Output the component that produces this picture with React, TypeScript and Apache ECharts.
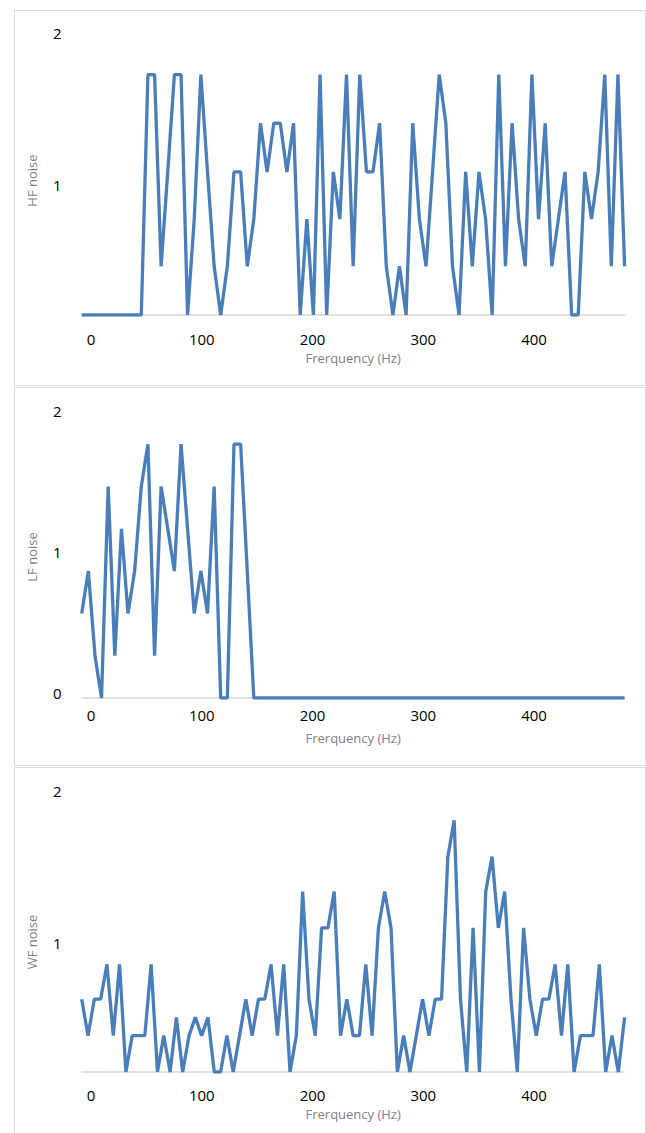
import { useEffect, useRef } from "react";
import * as echarts from "echarts";

// Frequency bins (Hz) of the HF and LF traces
const hfLfFrequencies = [
  -8.4, -2.4, 3.6, 9.5, 15.5, 21.5, 27.5, 33.4, 39.4, 45.4,
  51.4, 57.4, 63.3, 69.3, 75.3, 81.3, 87.2, 93.2, 99.2, 105.2,
  111.2, 117.1, 123.1, 129.1, 135.1, 141.1, 147.0, 153.0, 159.0, 165.0,
  170.9, 176.9, 182.9, 188.9, 194.9, 200.8, 206.8, 212.8, 218.8, 224.7,
  230.7, 236.7, 242.7, 248.7, 254.6, 260.6, 266.6, 272.6, 278.5, 284.5,
  290.5, 296.5, 302.5, 308.4, 314.4, 320.4, 326.4, 332.3, 338.3, 344.3,
  350.3, 356.3, 362.2, 368.2, 374.2, 380.2, 386.1, 392.1, 398.1, 404.1,
  410.1, 416.0, 422.0, 428.0, 434.0, 439.9, 445.9, 451.9, 457.9, 463.9,
  469.8, 475.8, 481.8,
];

// Frequency bins (Hz) of the WF trace
const wfFrequencies = [
  -8.4, -2.7, 3.0, 8.7, 14.4, 20.1, 25.8, 31.5, 37.2, 42.9,
  48.6, 54.3, 60.0, 65.7, 71.4, 77.1, 82.8, 88.5, 94.2, 99.9,
  105.6, 111.3, 117.0, 122.7, 128.4, 134.1, 139.8, 145.5, 151.2, 156.9,
  162.6, 168.3, 174.0, 179.7, 185.4, 191.1, 196.8, 202.5, 208.2, 213.9,
  219.6, 225.3, 231.0, 236.7, 242.4, 248.1, 253.8, 259.5, 265.2, 270.9,
  276.6, 282.3, 288.0, 293.7, 299.4, 305.1, 310.8, 316.5, 322.2, 327.9,
  333.6, 339.3, 345.0, 350.7, 356.4, 362.1, 367.8, 373.5, 379.2, 384.9,
  390.6, 396.3, 402.0, 407.7, 413.4, 419.1, 424.8, 430.5, 436.2, 441.9,
  447.6, 453.3, 459.0, 464.7, 470.4, 476.1, 481.8,
];

const hfNoise = [
  0.18, 0.18, 0.18, 0.18, 0.18, 0.18, 0.18, 0.18, 0.18, 0.18,
  1.76, 1.76, 0.5, 1.12, 1.76, 1.76, 0.18, 0.81, 1.76, 1.12,
  0.5, 0.18, 0.5, 1.12, 1.12, 0.5, 0.81, 1.44, 1.12, 1.44,
  1.44, 1.12, 1.44, 0.18, 0.81, 0.18, 1.76, 0.18, 1.12, 0.81,
  1.76, 0.5, 1.76, 1.12, 1.12, 1.44, 0.5, 0.18, 0.5, 0.18,
  1.44, 0.81, 0.5, 1.12, 1.76, 1.44, 0.5, 0.18, 1.12, 0.5,
  1.12, 0.81, 0.18, 1.76, 0.5, 1.44, 0.81, 0.5, 1.76, 0.81,
  1.44, 0.5, 0.81, 1.12, 0.18, 0.18, 1.12, 0.81, 1.12, 1.76,
  0.5, 1.76, 0.5,
];

const lfNoise = [
  0.6, 0.9, 0.3, 0, 1.5, 0.3, 1.2, 0.6, 0.9, 1.5,
  1.8, 0.3, 1.5, 1.2, 0.9, 1.8, 1.2, 0.6, 0.9, 0.6,
  1.5, 0, 0, 1.8, 1.8, 0.9, 0, 0, 0, 0,
  0, 0, 0, 0, 0, 0, 0, 0, 0, 0,
  0, 0, 0, 0, 0, 0, 0, 0, 0, 0,
  0, 0, 0, 0, 0, 0, 0, 0, 0, 0,
  0, 0, 0, 0, 0, 0, 0, 0, 0, 0,
  0, 0, 0, 0, 0, 0, 0, 0, 0, 0,
  0, 0, 0,
];

const wfNoise = [
  0.66, 0.42, 0.66, 0.66, 0.89, 0.42, 0.89, 0.18, 0.42, 0.42,
  0.42, 0.89, 0.18, 0.42, 0.18, 0.54, 0.18, 0.42, 0.54, 0.42,
  0.54, 0.18, 0.18, 0.42, 0.18, 0.42, 0.66, 0.42, 0.66, 0.66,
  0.89, 0.42, 0.89, 0.18, 0.42, 1.37, 0.66, 0.42, 1.13, 1.13,
  1.37, 0.42, 0.66, 0.42, 0.42, 0.89, 0.42, 1.13, 1.37, 1.13,
  0.18, 0.42, 0.18, 0.42, 0.66, 0.42, 0.66, 0.66, 1.6, 1.84,
  0.66, 0.18, 1.13, 0.18, 1.37, 1.6, 1.13, 1.37, 0.66, 0.18,
  1.13, 0.66, 0.42, 0.66, 0.66, 0.89, 0.42, 0.89, 0.18, 0.42,
  0.42, 0.42, 0.89, 0.18, 0.42, 0.18, 0.54,
];

const xTickLabels = [0, 100, 200, 300, 400];
const xAxisTitle = "Frerquency (Hz)";
const panelNames = ["HF noise", "LF noise", "WF noise"];
const panelFrequencies = [hfLfFrequencies, hfLfFrequencies, wfFrequencies];
const panelSeries = [hfNoise, lfNoise, wfNoise];
const panelYMin = [0.18, 0, 0.18];
const panelYTicks = [[1, 2], [0, 1, 2], [1, 2]];

const FONT = "'Open Sans', sans-serif";
const LINE_COLOR = "#4a7ebb";

export default function App() {
  const ref = useRef<HTMLDivElement>(null);

  useEffect(() => {
    if (!ref.current) return;
    const chart = echarts.init(ref.current, undefined, { renderer: "svg" });

    const gridTops = [38, 416, 796];
    const gridHeights = [277, 282, 276];
    const labelMargins = [16.5, 9.5, 15.5];
    const nameGaps = [36.5, 33.5, 35.5];
    const yNamePad = [[0, 8, 0, 0], [0, 0, 0, 0], [0, 16, 0, 0]];

    const grids = gridTops.map((top, i) => ({
      left: 81.7,
      width: 542.9,
      top,
      height: gridHeights[i],
    }));

    const xAxes = gridTops.map((_, i) => ({
      type: "value" as const,
      gridIndex: i,
      min: -8.4,
      max: 481.8,
      name: xAxisTitle,
      nameLocation: "middle" as const,
      nameGap: nameGaps[i],
      nameTextStyle: { color: "#7f7f7f", fontSize: 13, fontFamily: FONT },
      axisLine: { show: true, lineStyle: { color: "#d9d9d9", width: 1.5 } },
      axisTick: { show: false },
      splitLine: { show: false },
      axisLabel: {
        customValues: xTickLabels,
        color: "#000",
        fontSize: 15,
        fontFamily: FONT,
        margin: labelMargins[i],
      },
    }));

    const yAxes = gridTops.map((_, i) => ({
      type: "value" as const,
      gridIndex: i,
      min: panelYMin[i],
      max: 2,
      name: panelNames[i],
      nameLocation: "middle" as const,
      nameGap: 43,
      nameTextStyle: {
        color: "#7f7f7f",
        fontSize: 13,
        fontFamily: FONT,
        padding: yNamePad[i],
      },
      axisLine: { show: false },
      axisTick: { show: false },
      splitLine: { show: false },
      axisLabel: {
        customValues: panelYTicks[i],
        color: "#000",
        fontSize: 15,
        fontFamily: FONT,
        margin: 20,
        verticalAlign: "bottom" as const,
        lineHeight: 10,
      },
    }));

    const series = panelSeries.map((vals, i) => ({
      type: "line" as const,
      xAxisIndex: i,
      yAxisIndex: i,
      showSymbol: false,
      symbol: "none",
      lineStyle: { color: LINE_COLOR, width: 3.3 },
      data: panelFrequencies[i].map((f, j) => [f, vals[j]]),
    }));

    const borderStyle = { fill: "none", stroke: "#d9d9d9", lineWidth: 1 };
    chart.setOption({
      animation: false,
      backgroundColor: "#fff",
      grid: grids,
      xAxis: xAxes,
      yAxis: yAxes,
      series,
      graphic: [
        { type: "rect", shape: { x: 14.5, y: 10.5, width: 631, height: 375 }, style: borderStyle, silent: true },
        { type: "rect", shape: { x: 14.5, y: 387.5, width: 631, height: 378 }, style: borderStyle, silent: true },
        { type: "rect", shape: { x: 14.5, y: 767.5, width: 631, height: 380 }, style: borderStyle, silent: true },
      ],
    });

    return () => chart.dispose();
  }, []);

  return (
    <div
      ref={ref}
      style={{ position: "absolute", left: 0, top: 0, width: 646, height: 1133 }}
    />
  );
}
